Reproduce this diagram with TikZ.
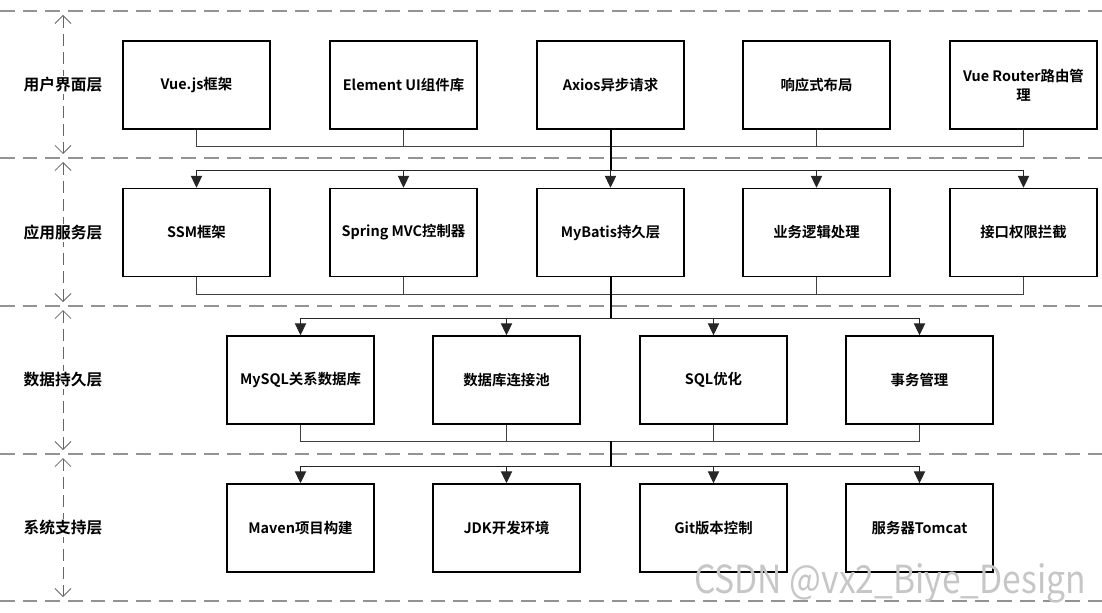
\documentclass[tikz,border=0pt]{standalone}
\usepackage{fontspec}
\setmainfont{Noto Sans CJK SC}[BoldFont={Noto Sans CJK SC Bold}]
\usetikzlibrary{arrows.meta}
\tikzset{
  layerbox/.style={draw=black, line width=1.1pt, fill=white, minimum width=110.25pt, minimum height=66pt,
    inner sep=2pt, align=center, font=\bfseries\fontsize{10.8}{14}\selectfont},
  layerlbl/.style={fill=white, inner sep=1pt, font=\bfseries\fontsize{11.8}{14}\selectfont},
  sepline/.style={draw=gray!85, line width=1.5pt, dash pattern=on 11pt off 6pt},
  sidearrow/.style={draw=gray!80!black, line width=0.6pt, dash pattern=on 9pt off 4.5pt,
    {Straight Barb[width=12pt,length=6pt]}-{Straight Barb[width=12pt,length=6pt]}},
  busline/.style={draw=black!75, line width=0.75pt},
  trunk/.style={draw=black, line width=1.5pt},
  feed/.style={draw=black!85, line width=0.75pt, -{Triangle[width=8.5pt,length=9pt]}},
}
\begin{document}
\begin{tikzpicture}[x=0.75pt,y=-0.75pt]
\useasboundingbox (0,0) rectangle (1102,613);
% separators
\foreach \yy in {11,158,306,454,601} \draw[sepline] (0,\yy) -- (1102,\yy);
% side arrows
\foreach \ya/\yb in {15/154,162/302,310/450,458/597} \draw[sidearrow] (63,\ya) -- (63,\yb);
% layer labels
\node[layerlbl] (L1) at (63,85) {用户界面层};
\node[layerlbl] (L2) at (63,233) {应用服务层};
\node[layerlbl] (L3) at (63,380) {数据持久层};
\node[layerlbl] (L4) at (63,528) {系统支持层};
% row 1
\node[layerbox] (a1) at (196.5,85) {Vue.js框架};
\node[layerbox] (a2) at (403.5,85) {Element UI组件库};
\node[layerbox] (a3) at (610.5,85) {Axios异步请求};
\node[layerbox] (a4) at (816.5,85) {响应式布局};
\node[layerbox] (a5) at (1023.5,85) {Vue Router路由管\\理};
% row 2
\node[layerbox] (b1) at (196.5,232.5) {SSM框架};
\node[layerbox] (b2) at (403.5,232.5) {Spring MVC控制器};
\node[layerbox] (b3) at (610.5,232.5) {MyBatis持久层};
\node[layerbox] (b4) at (816.5,232.5) {业务逻辑处理};
\node[layerbox] (b5) at (1023.5,232.5) {接口权限拦截};
% row 3
\node[layerbox] (c1) at (300.5,380) {MySQL关系数据库};
\node[layerbox] (c2) at (506.5,380) {数据库连接池};
\node[layerbox] (c3) at (713.5,380) {SQL优化};
\node[layerbox] (c4) at (919.5,380) {事务管理};
% row 4
\node[layerbox] (d1) at (300.5,528) {Maven项目构建};
\node[layerbox] (d2) at (506.5,528) {JDK开发环境};
\node[layerbox] (d3) at (713.5,528) {Git版本控制};
\node[layerbox] (d4) at (919.5,528) {服务器Tomcat};
% junction coordinates
\coordinate (j1) at (610.5,147);
\coordinate (k2) at (610.5,171);
\coordinate (j2) at (610.5,294);
\coordinate (k3) at (610.5,318);
\coordinate (j3) at (610.5,441);
\coordinate (k4) at (610.5,466);
% row1 -> bus
\foreach \n in {a1,a2,a3,a4,a5} \draw[busline] (\n.south) |- (j1);
\draw[trunk] (a3.south) -- (j1) -- (k2);
\foreach \n in {b1,b2,b3,b4,b5} \draw[feed] (k2) -| (\n.north);
% row2 -> bus
\foreach \n in {b1,b2,b3,b4,b5} \draw[busline] (\n.south) |- (j2);
\draw[trunk] (b3.south) -- (j2) -- (k3);
\foreach \n in {c1,c2,c3,c4} \draw[feed] (k3) -| (\n.north);
% row3 -> bus
\foreach \n in {c1,c2,c3,c4} \draw[busline] (\n.south) |- (j3);
\draw[trunk] (j3) -- (k4);
\foreach \n in {d1,d2,d3,d4} \draw[feed] (k4) -| (\n.north);
% watermark
\node[text=gray!45, font=\fontsize{29}{30}\selectfont, anchor=east, inner sep=0pt] (wm) at (1086,583) {\scalebox{0.87}[1]{CSDN @vx2\_Biye\_Design}};
\end{tikzpicture}
\end{document}
